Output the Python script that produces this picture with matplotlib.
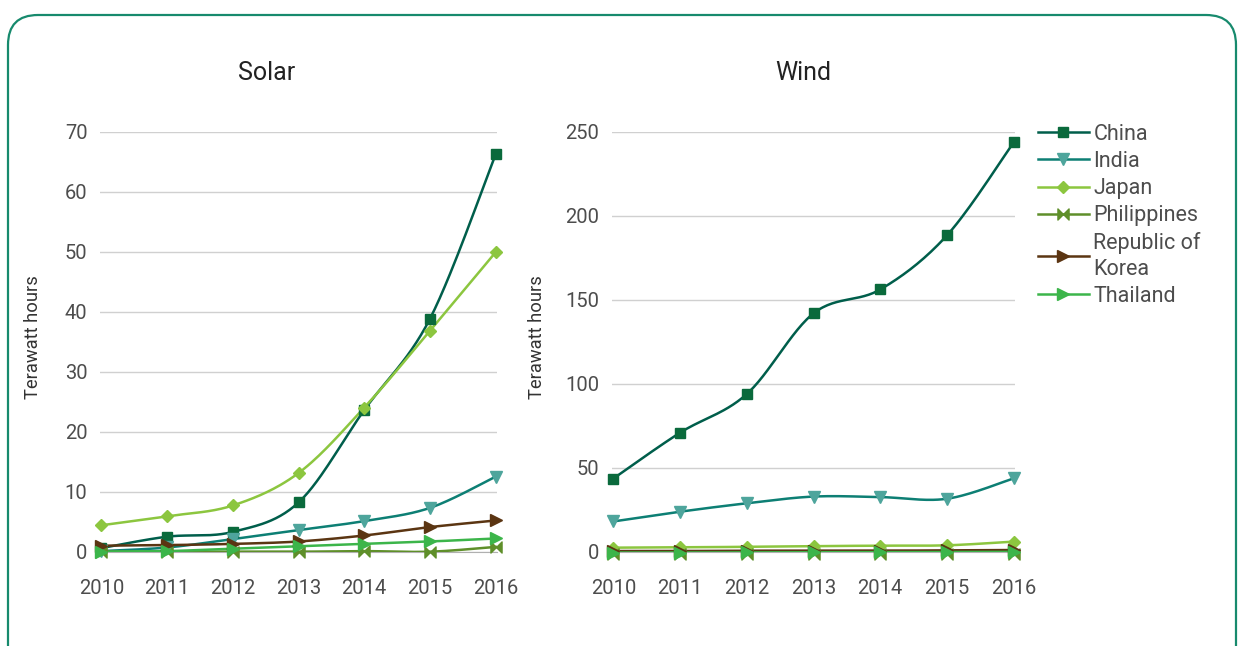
import numpy as np
import matplotlib
matplotlib.use("Agg")
import matplotlib.pyplot as plt
from matplotlib.path import Path
from matplotlib.patches import FancyBboxPatch

plt.rcParams['font.family'] = ['Roboto', 'DejaVu Sans']

years = [2010, 2011, 2012, 2013, 2014, 2015, 2016]
countries = ["China", "India", "Japan", "Philippines", "Republic of\nKorea", "Thailand"]

# Terawatt hours
solar_china = [0.6, 2.5, 3.3, 8.2, 23.6, 38.8, 66.2]
solar_india = [0.1, 0.7, 2.1, 3.6, 5.1, 7.3, 12.5]
solar_japan = [4.4, 5.9, 7.7, 13.1, 24.0, 36.8, 49.9]
solar_philippines = [0.0, 0.0, 0.0, 0.0, 0.1, 0.0, 0.8]
solar_korea = [1.0, 1.1, 1.3, 1.7, 2.7, 4.1, 5.2]
solar_thailand = [0.0, 0.1, 0.5, 0.9, 1.3, 1.7, 2.2]

wind_china = [43.5, 70.8, 93.8, 141.8, 156.0, 188.2, 243.5]
wind_india = [18.0, 23.8, 28.8, 32.8, 32.5, 31.5, 43.6]
wind_japan = [2.4, 2.6, 2.9, 3.3, 3.6, 3.8, 6.0]
wind_philippines = [-1.5, -1.5, -1.5, -1.5, -1.5, -1.5, -1.5]
wind_korea = [0.4, 0.4, 0.6, 0.6, 0.6, 0.8, 1.0]
wind_thailand = [-0.5, -0.5, -0.4, -0.3, -0.3, -0.2, -0.1]

solar = [solar_china, solar_india, solar_japan, solar_philippines, solar_korea, solar_thailand]
wind = [wind_china, wind_india, wind_japan, wind_philippines, wind_korea, wind_thailand]

bowtie = Path([(-1, -1), (-1, 1), (0, 0), (1, 1), (1, -1), (0, 0), (-1, -1)],
              [Path.MOVETO, Path.LINETO, Path.LINETO, Path.LINETO, Path.LINETO, Path.LINETO, Path.CLOSEPOLY])

styles = [
    dict(color='#005e4b', mfc='#0a6a3c', mec='#0a6a3c', marker='s', ms=7),
    dict(color='#0d7f74', mfc='#4ea59c', mec='#4ea59c', marker='v', ms=9),
    dict(color='#8cc63f', mfc='#8cc63f', mec='#8cc63f', marker='D', ms=6.5),
    dict(color='#5f8f2a', mfc='#5f8f2a', mec='#5f8f2a', marker=bowtie, ms=8),
    dict(color='#5b3512', mfc='#5b3512', mec='#5b3512', marker='>', ms=8),
    dict(color='#3cb54a', mfc='#3cb54a', mec='#3cb54a', marker='>', ms=8),
]

TEXT = '#4d4d4d'


def smooth(x, y, n=30):
    """Excel-like smoothed line through the points (Catmull-Rom as Bezier)."""
    x = np.asarray(x, float)
    y = np.asarray(y, float)
    px = np.concatenate([[x[0]], x, [x[-1]]])
    py = np.concatenate([[y[0]], y, [y[-1]]])
    xs, ys = [], []
    t = np.linspace(0, 1, n)
    for i in range(1, len(px) - 2):
        p0 = np.array([px[i], py[i]])
        p3 = np.array([px[i + 1], py[i + 1]])
        c1 = p0 + (np.array([px[i + 1], py[i + 1]]) - np.array([px[i - 1], py[i - 1]])) / 6
        c2 = p3 - (np.array([px[i + 2], py[i + 2]]) - np.array([px[i], py[i]])) / 6
        b = ((1 - t) ** 3)[:, None] * p0 + (3 * (1 - t) ** 2 * t)[:, None] * c1 \
            + (3 * (1 - t) * t ** 2)[:, None] * c2 + (t ** 3)[:, None] * p3
        xs.append(b[:, 0])
        ys.append(b[:, 1])
    return np.concatenate(xs), np.concatenate(ys)


def draw_panel(ax, series, ymax, step, label_x):
    for vals, st in zip(series, styles):
        sx, sy = smooth(years, vals)
        ax.plot(sx, sy, color=st['color'], lw=1.8, zorder=3)
        ax.plot(years, vals, ls='none', marker=st['marker'], ms=st['ms'],
                mfc=st['mfc'], mec=st['mec'], zorder=4, clip_on=False)
    ax.set_xlim(2009.98, 2016.02)
    ax.set_ylim(0, ymax)
    ax.set_yticks(np.arange(0, ymax + 1, step))
    ax.set_xticks(years)
    ax.grid(axis='y', color='#d0d0d0', lw=1)
    ax.set_axisbelow(True)
    for s in ['top', 'right', 'left']:
        ax.spines[s].set_visible(False)
    ax.spines['bottom'].set_color('#b0b0b0')
    ax.tick_params(axis='y', length=0, pad=9, labelsize=14.5, labelcolor=TEXT)
    ax.tick_params(axis='x', length=0, pad=20, labelsize=14.5, labelcolor=TEXT)
    ax.set_ylabel('Terawatt hours', fontsize=13.2, color='#333333')
    ax.yaxis.set_label_coords(label_x, 0.511)


fig = plt.figure(figsize=(12.4, 6.46), dpi=100)
frame = FancyBboxPatch((0.08, -0.5), 12.28, 6.81, boxstyle="round,pad=0,rounding_size=0.3",
                       transform=fig.dpi_scale_trans, fill=False, ec='#178a6d', lw=1.6)
fig.patches.append(frame)

ax1 = fig.add_axes([100 / 1240, 1 - 551.7 / 646, 397 / 1240, (551.7 - 131.5) / 646])
ax2 = fig.add_axes([612 / 1240, 1 - 551.7 / 646, 403 / 1240, (551.7 - 131.5) / 646])
draw_panel(ax1, solar, 70, 10, -0.145)
draw_panel(ax2, wind, 250, 50, -0.164)

fig.text(267 / 1240, 1 - 73 / 646, 'Solar', fontsize=18, color='#222222',
         ha='center', va='center')
fig.text(803 / 1240, 1 - 73 / 646, 'Wind', fontsize=18, color='#222222',
         ha='center', va='center')

handles = []
for st in styles:
    h, = ax2.plot([], [], color=st['color'], lw=1.8, marker=st['marker'], ms=st['ms'],
                  mfc=st['mfc'], mec=st['mec'])
    handles.append(h)
leg = fig.legend(handles, countries, loc='upper left', bbox_to_anchor=(1038 / 1240, 1 - 124 / 646),
                 frameon=False, fontsize=15.5, handlelength=2.35, handletextpad=0.22,
                 labelspacing=0.28, borderpad=0, borderaxespad=0, labelcolor=TEXT)
for t in leg.get_texts():
    t.set_linespacing(1.3)

fig.savefig('out.png', dpi=100)
